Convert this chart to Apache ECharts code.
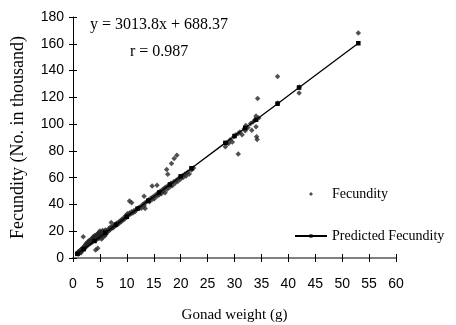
<!DOCTYPE html>
<html>
<head>
<meta charset="utf-8">
<script src="https://cdn.jsdelivr.net/npm/echarts@6/dist/echarts.min.js"></script>
<style>
  html, body { margin: 0; padding: 0; background: #fff; }
  #chart { width: 456px; height: 325px; }
</style>
</head>
<body>
<div id="chart"></div>
<script>
const fecundity = [
  [0.8,3.2],[0.9,4.1],[1.0,2.9],[1.0,4.6],[1.1,3.8],[1.2,5.2],[1.2,3.5],[1.3,4.4],[1.4,6.0],[1.5,5.1],
  [1.5,3.9],[1.6,6.8],[1.7,5.6],[1.8,7.4],[1.9,15.9],[1.9,6.2],[2.0,8.1],[2.1,7.0],[2.2,9.3],[2.3,7.8],
  [2.4,10.2],[2.5,8.6],[2.5,11.0],[2.6,9.4],[2.7,10.6],[2.8,12.1],[2.9,9.9],[3.0,11.3],[3.0,13.0],
  [3.1,12.4],[3.2,10.8],[3.3,13.6],[3.4,12.0],[3.5,14.5],[3.5,11.6],[3.6,13.1],[3.7,15.2],[3.8,12.9],
  [3.8,16.0],[3.9,14.1],[4.0,15.6],[4.0,13.2],[4.1,17.0],[4.2,6.0],[4.2,14.8],[4.3,16.3],[4.4,13.9],
  [4.5,17.5],[4.5,15.0],[4.6,7.2],[4.6,18.2],[4.7,16.1],[4.8,14.6],[4.8,19.0],[4.9,17.3],[5.0,15.8],
  [5.0,20.1],[5.1,18.4],[5.2,16.6],[5.3,19.5],[5.3,14.2],[5.4,17.7],[5.5,20.5],[5.5,15.4],[5.6,18.9],
  [5.7,17.0],[5.8,19.8],[5.9,16.4],[6.0,18.6],[6.0,20.9],[6.1,17.8],[6.2,19.2],
  [6.3,20.4],[6.5,19.6],[6.6,21.7],[6.8,21.0],[6.9,23.0],[7.0,21.6],[7.1,26.5],[7.2,22.8],[7.4,22.4],
  [7.5,24.0],[7.6,23.2],[7.8,25.1],[8.0,24.4],[8.1,26.0],[8.3,25.5],[8.5,26.8],[8.6,25.9],[8.8,27.9],
  [9.0,27.2],[9.1,29.0],[9.3,28.4],[9.5,30.3],[9.6,29.1],[9.8,31.5],[10.0,30.6],[10.1,33.0],[10.3,31.9],
  [10.5,42.5],[10.5,33.6],[10.7,32.8],[10.9,41.2],[10.9,34.5],[11.1,33.7],[11.3,35.2],[11.5,34.6],
  [11.7,36.0],[12.0,36.8],[12.2,37.6],[12.5,38.3],[12.7,37.2],[13.0,40.1],[13.2,46.2],[13.2,39.0],
  [13.4,41.3],[13.4,37.0],[13.7,42.0],[14.0,43.4],[14.2,42.1],[14.5,44.9],[14.7,53.7],[14.7,43.6],
  [14.9,45.8],[15.1,44.2],[15.3,47.0],[15.6,54.4],[15.6,46.1],[15.8,48.5],[16.0,47.3],[16.2,49.8],
  [16.4,48.0],[16.6,51.0],[16.8,49.6],[17.0,52.2],[17.1,48.8],[17.4,66.1],[17.6,62.6],[17.3,53.1],
  [17.5,51.4],[17.8,54.6],[18.0,53.0],[18.3,70.6],[18.2,55.8],[18.5,54.2],[18.8,74.3],[18.7,57.0],
  [19.0,56.1],[19.3,76.8],[19.2,58.3],[19.5,57.4],[19.8,60.2],[20.0,59.0],[20.3,61.5],[20.5,60.3],
  [20.8,62.8],[21.0,61.2],[21.3,64.0],[21.6,62.7],[22.0,65.8],[22.4,67.2],
  [28.3,83.0],[28.6,86.0],[28.9,85.5],[29.2,88.4],[29.6,86.7],[29.9,90.5],[30.2,91.8],[30.7,93.0],
  [30.7,77.6],[31.0,94.2],[31.4,92.0],[31.8,96.5],[32.0,95.0],[32.1,99.0],[32.5,97.5],[33.0,100.4],
  [33.2,95.5],[33.5,101.8],[33.8,103.0],[34.0,106.0],[34.0,98.0],[34.1,90.5],[34.2,88.5],[34.3,119.1],
  [34.5,104.5],[38.0,135.5],[38.0,115.8],[42.0,123.3],[42.0,127.8],[53.0,168.0]
];

// fitted line y = 3013.8x + 688.37 (thousands)
const predictedX = [0.8, 2, 4, 6, 8, 10, 12, 14, 16, 18, 20, 22, 28.3, 30, 32, 34, 38, 42, 53];
const predictedY = [3.1, 6.7, 12.7, 18.8, 24.8, 30.8, 36.9, 42.9, 48.9, 54.9, 61.0, 67.0, 86.0, 91.1, 97.1, 103.2, 115.2, 127.3, 160.4];

const xTicks = { min: 0, max: 60, interval: 5 };
const yTicks = { min: 0, max: 180, interval: 20 };

const serif = '"Liberation Serif", "Times New Roman", serif';
const sans = '"Liberation Sans", Arial, sans-serif';

const chart = echarts.init(document.getElementById('chart'), null, { renderer: 'canvas' });

chart.setOption({
  animation: false,
  backgroundColor: '#fff',
  grid: { left: 73, right: 60, top: 17, bottom: 67, outerBoundsMode: 'none' },
  graphic: [
    { type: 'text', left: 90, top: 17, style: { text: 'y = 3013.8x + 688.37', font: '16px ' + serif, fill: '#000' } },
    { type: 'text', left: 130, top: 44, style: { text: 'r = 0.987', font: '16px ' + serif, fill: '#000' } }
  ],
  legend: {
    orient: 'vertical',
    left: 294,
    top: 187,
    padding: 0,
    itemWidth: 32,
    itemHeight: 4,
    itemGap: 28,
    textStyle: { fontFamily: serif, fontSize: 14, color: '#000' },
    data: [
      { name: 'Fecundity', icon: 'path://M5,0 L10,5 L5,10 L0,5 Z' },
      { name: 'Predicted Fecundity' }
    ]
  },
  xAxis: [
    {
      type: 'value', ...xTicks,
      name: 'Gonad weight (g)', nameLocation: 'middle', nameGap: 50,
      nameTextStyle: { fontFamily: serif, fontSize: 15, color: '#000' },
      axisLine: { lineStyle: { color: '#808080', width: 2 } },
      axisTick: { length: 4, lineStyle: { color: '#000' } },
      axisLabel: { fontFamily: sans, fontSize: 14, color: '#000', margin: 19 },
      splitLine: { show: false }
    },
    {
      type: 'value', ...xTicks, position: 'bottom',
      axisLine: { show: false },
      axisTick: { inside: true, length: 4, lineStyle: { color: '#000' } },
      axisLabel: { show: false },
      splitLine: { show: false }
    }
  ],
  yAxis: [
    {
      type: 'value', ...yTicks,
      name: 'Fecundity (No. in thousand)', nameLocation: 'middle', nameGap: 46,
      nameTextStyle: { fontFamily: serif, fontSize: 18, color: '#000' },
      axisLine: { show: true, lineStyle: { color: '#000', width: 1 } },
      axisTick: { show: true, length: 4, lineStyle: { color: '#000' } },
      axisLabel: { fontFamily: sans, fontSize: 14, color: '#000', margin: 9 },
      splitLine: { show: false }
    },
    {
      type: 'value', ...yTicks, position: 'left',
      axisLine: { show: false },
      axisTick: { show: true, inside: true, length: 4, lineStyle: { color: '#000' } },
      axisLabel: { show: false },
      splitLine: { show: false }
    }
  ],
  series: [
    {
      name: 'Fecundity',
      type: 'scatter',
      symbol: 'diamond',
      symbolSize: 5.5,
      itemStyle: { color: '#262626' },
      data: fecundity
    },
    {
      name: 'Predicted Fecundity',
      type: 'line',
      symbol: 'rect',
      symbolSize: 4.5,
      showAllSymbol: true,
      lineStyle: { color: '#000', width: 1.3 },
      itemStyle: { color: '#000' },
      data: predictedX.map((x, i) => [x, predictedY[i]])
    }
  ]
});
</script>
</body>
</html>
